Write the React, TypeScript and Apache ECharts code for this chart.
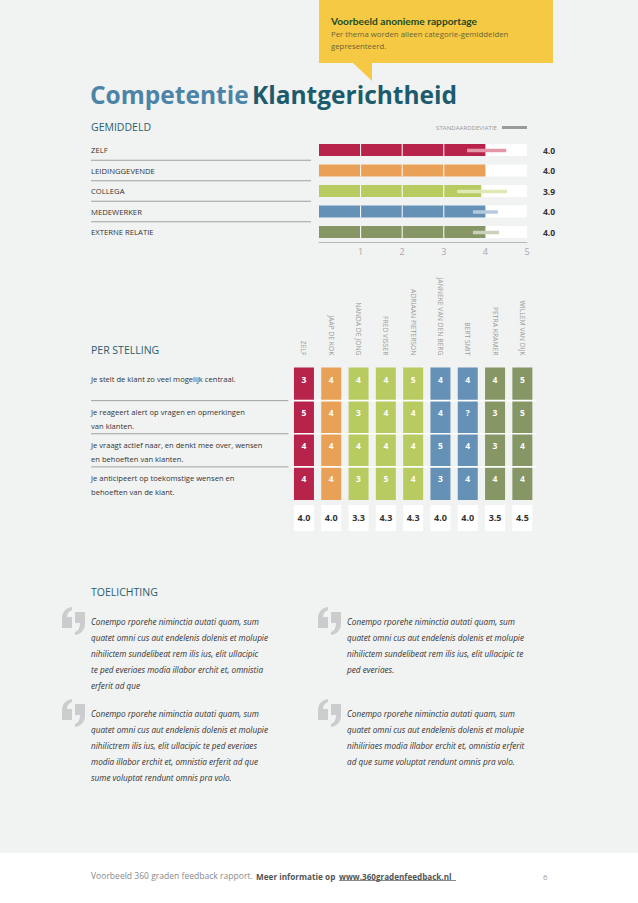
import React, { useEffect, useRef } from "react";
import * as echarts from "echarts";

// ---------- DATA ----------
const groups = ["ZELF", "LEIDINGGEVENDE", "COLLEGA", "MEDEWERKER", "EXTERNE RELATIE"];
const groupMeans = [4.0, 4.0, 3.9, 4.0, 4.0];
const groupColors = ["#b8234b", "#e9a057", "#b7cb60", "#6591b7", "#869664"];
const sdLow = [3.56, null, 3.32, 3.7, 3.7];
const sdHigh = [4.5, null, 4.52, 4.3, 4.33];
const sdColors = ["#e497a9", "#f3c9a0", "#e0e8b6", "#b6cadf", "#cad0b9"];
const meanTicks = [0, 1, 2, 3, 4, 5];

const raters = [
  "ZELF",
  "JAAP DE KOK",
  "NANDA DE JONG",
  "FRED VISSER",
  "ADRIAAN PIETERSON",
  "JANNEKE VAN DEN BERG",
  "BERT SMIT",
  "PETRA KRAMER",
  "WILLEM VAN DIJK",
];
const raterGroup = [0, 1, 2, 2, 2, 3, 3, 4, 4];
const statements = [
  "Je stelt de klant zo veel mogelijk centraal.",
  "Je reageert alert op vragen en opmerkingen\nvan klanten.",
  "Je vraagt actief naar, en denkt mee over, wensen\nen behoeften van klanten.",
  "Je anticipeert op toekomstige wensen en\nbehoeften van de klant.",
];
const scores = [
  ["3", "4", "4", "4", "5", "4", "4", "4", "5"],
  ["5", "4", "3", "4", "4", "4", "?", "3", "5"],
  ["4", "4", "4", "4", "4", "5", "4", "3", "4"],
  ["4", "4", "3", "5", "4", "3", "4", "4", "4"],
];
const raterMeans = [4.0, 4.0, 3.3, 4.3, 4.3, 4.0, 4.0, 3.5, 4.5];

const quoteLeftTop = [
  "Conempo rporehe niminctia autati quam, sum",
  "quatet omni cus aut endelenis dolenis et molupie",
  "nihilictem sundelibeat rem ilis ius, elit ullacipic",
  "te ped everiaes modia illabor erchit et, omnistia",
  "erferit ad que",
];
const quoteRightTop = [
  "Conempo rporehe niminctia autati quam, sum",
  "quatet omni cus aut endelenis dolenis et molupie",
  "nihilictem sundelibeat rem ilis ius, elit ullacipic te",
  "ped everiaes.",
];
const quoteLeftBottom = [
  "Conempo rporehe niminctia autati quam, sum",
  "quatet omni cus aut endelenis dolenis et molupie",
  "nihilictrem ilis ius, elit ullacipic te ped everiaes",
  "modia illabor erchit et, omnistia erferit ad que",
  "sume voluptat rendunt omnis pra volo.",
];
const quoteRightBottom = [
  "Conempo rporehe niminctia autati quam, sum",
  "quatet omni cus aut endelenis dolenis et molupie",
  "nihiliriaes modia illabor erchit et, omnistia erferit",
  "ad que sume voluptat rendunt omnis pra volo.",
];

const FONT = "'Open Sans', 'Noto Sans', sans-serif";
const TITLE_FONT = "'Open Sans', Lato, sans-serif";
const CALLOUT_FONT = "Lato, 'Open Sans', sans-serif";

const QUOTE_D =
  "M10 0 L10 3 C7 4 5 7 5 10 L10 10 L10 21 L0 21 L0 11 C0 5 4 1 10 0 Z " +
  "M13 5 L23 5 L23 17 C23 23 19 27 13 28 L13 25 C16 24 18 21 18 16 L13 16 Z";

let registered = false;
function registerShapes() {
  if (registered) return;
  echarts.graphic.registerShape("quoteMark", echarts.graphic.extendPath(QUOTE_D, {}) as any);
  registered = true;
}

function quoteBlock(x: number, y: number, lines: string[]) {
  return [
    { type: "quoteMark", x: x - 29, y: y - 15, style: { fill: "#cbcccd" } },
    {
      type: "text",
      x,
      y: y - 7.9,
      style: {
        text: lines.join("\n"),
        fontFamily: FONT,
        fontStyle: "italic",
        fontSize: 8.2,
        lineHeight: 15.8,
        fill: "#333333",
        verticalAlign: "top",
        align: "left",
      },
    },
  ];
}

export default function App() {
  const ref = useRef<HTMLDivElement>(null);

  useEffect(() => {
    if (!ref.current) return;
    registerShapes();
    const chart = echarts.init(ref.current, undefined, { renderer: "svg" });

    const g0 = { left: 319, top: 139.75, width: 208, height: 102.5 };
    const g1 = { left: 290.3, top: 367.5, width: 245.7, height: 132.5 };
    const g2 = { left: 290.3, top: 505, width: 245.7, height: 26 };

    const cells: { col: number; row: number; text: string; group: number }[] = [];
    scores.forEach((r, ri) =>
      r.forEach((s, ci) => cells.push({ col: ci, row: ri, text: s, group: raterGroup[ci] }))
    );

    const sdData: number[][] = [];
    groups.forEach((_, i) => {
      if (sdLow[i] != null && sdHigh[i] != null) sdData.push([sdLow[i] as number, sdHigh[i] as number, i]);
    });

    const option: any = {
      animation: false,
      backgroundColor: "#f1f2f2",
      textStyle: { fontFamily: FONT },
      legend: {
        data: [{ name: "STANDAARDDEVIATIE", icon: "rect", itemStyle: { color: "#9a9a9a" } }],
        right: 111,
        top: 124.5,
        padding: 0,
        itemWidth: 25,
        itemHeight: 3,
        align: "right",
        selectedMode: false,
        textStyle: { fontSize: 6.1, color: "#9a9a9a", fontFamily: FONT },
      },
      grid: [
        { ...g0, containLabel: false },
        { ...g1, containLabel: false },
        { ...g2, containLabel: false },
      ],
      xAxis: [
        {
          gridIndex: 0,
          type: "value",
          min: 0,
          max: 5,
          interval: 1,
          axisLine: { show: true, lineStyle: { color: "#b8b8b8", width: 1 } },
          axisTick: { show: false },
          splitLine: { show: false },
          axisLabel: {
            color: "#a8a8a8",
            fontSize: 9,
            margin: 5,
            fontFamily: FONT,
            formatter: (v: number) => (v === 0 ? "" : String(v)),
          },
        },
        {
          gridIndex: 1,
          type: "category",
          data: raters,
          position: "top",
          axisLine: { show: false },
          axisTick: { show: false },
          axisLabel: { rotate: 90, fontSize: 6.8, color: "#9a9a9a", margin: 12, interval: 0, fontFamily: FONT },
        },
        { gridIndex: 2, type: "category", data: raters, show: false },
      ],
      yAxis: [
        {
          gridIndex: 0,
          type: "category",
          data: groups,
          inverse: true,
          axisLine: { show: false },
          axisTick: { show: false },
          axisLabel: { align: "left", margin: 228, fontSize: 7.7, color: "#333333", fontFamily: FONT },
        },
        {
          gridIndex: 0,
          type: "category",
          data: groupMeans.map((v) => v.toFixed(1)),
          inverse: true,
          position: "right",
          axisLine: { show: false },
          axisTick: { show: false },
          axisLabel: {
            align: "left",
            margin: 16,
            fontSize: 8.5,
            fontWeight: "bold",
            color: "#333333",
            fontFamily: FONT,
          },
        },
        { gridIndex: 1, type: "category", data: statements, inverse: true, show: false },
        { gridIndex: 2, type: "category", data: ["gem"], show: false },
      ],
      series: [
        {
          type: "bar",
          xAxisIndex: 0,
          yAxisIndex: 0,
          barWidth: 12,
          showBackground: true,
          backgroundStyle: { color: "#ffffff", opacity: 1 },
          data: groupMeans.map((v, i) => ({ value: v, itemStyle: { color: groupColors[i] } })),
          z: 2,
          silent: true,
        },
        {
          type: "custom",
          xAxisIndex: 0,
          yAxisIndex: 0,
          encode: { x: 0, y: 1 },
          data: groupMeans.map((v, i) => [v, i]),
          z: 3,
          silent: true,
          renderItem: (params: any, api: any) => {
            const v = api.value(0);
            const c = api.value(1);
            const children = meanTicks
              .filter((t) => t > 0 && t < v)
              .map((t) => {
                const p = api.coord([t, c]);
                return {
                  type: "line",
                  shape: { x1: p[0], y1: p[1] - 6, x2: p[0], y2: p[1] + 6 },
                  style: { stroke: "#ffffff", lineWidth: 1 },
                };
              });
            return { type: "group", children };
          },
        },
        {
          type: "custom",
          name: "STANDAARDDEVIATIE",
          xAxisIndex: 0,
          yAxisIndex: 0,
          encode: { x: [0, 1], y: 2 },
          data: sdData,
          z: 4,
          silent: true,
          renderItem: (params: any, api: any) => {
            const i = api.value(2);
            const p1 = api.coord([api.value(0), i]);
            const p2 = api.coord([api.value(1), i]);
            return {
              type: "line",
              shape: { x1: p1[0], y1: p1[1] + 0.5, x2: p2[0], y2: p2[1] + 0.5 },
              style: { stroke: sdColors[i], lineWidth: 3.5 },
            };
          },
        },
        {
          type: "custom",
          xAxisIndex: 0,
          yAxisIndex: 0,
          encode: { x: 0, y: 1 },
          data: groups.slice(0, groups.length - 1).map((_, i) => [0, i]),
          z: 2,
          silent: true,
          renderItem: (params: any, api: any) => {
            const p = api.coord([0, api.value(1)]);
            const bh = api.size([0, 1])[1];
            const y = p[1] + bh / 2;
            const x0 = params.coordSys.x;
            return {
              type: "line",
              shape: { x1: x0 - 228, y1: y, x2: x0 - 8, y2: y },
              style: { stroke: "#8c8c8c", lineWidth: 0.8 },
            };
          },
        },
        {
          type: "custom",
          xAxisIndex: 1,
          yAxisIndex: 2,
          encode: { x: 0, y: 1 },
          data: cells.map((c) => [c.col, c.row]),
          z: 2,
          silent: true,
          renderItem: (params: any, api: any) => {
            const cell = cells[params.dataIndex];
            const p = api.coord([cell.col, cell.row]);
            const bh = api.size([1, 1])[1];
            const top = p[1] - bh / 2;
            return {
              type: "group",
              children: [
                {
                  type: "rect",
                  shape: { x: p[0] - 10, y: top, width: 20, height: bh },
                  style: { fill: groupColors[cell.group] },
                },
                {
                  type: "text",
                  x: p[0],
                  y: top + 11.5,
                  style: {
                    text: cell.text,
                    fill: "#ffffff",
                    fontWeight: "bold",
                    fontSize: 8.5,
                    fontFamily: FONT,
                    align: "center",
                    verticalAlign: "middle",
                  },
                },
              ],
            };
          },
        },
        {
          type: "custom",
          xAxisIndex: 1,
          yAxisIndex: 2,
          encode: { x: 0, y: 1 },
          data: statements.map((_, i) => [0, i]),
          z: 3,
          silent: true,
          renderItem: (params: any, api: any) => {
            const i = api.value(1);
            const p = api.coord([0, i]);
            const bh = api.size([0, 1])[1];
            const top = p[1] - bh / 2;
            const cs = params.coordSys;
            const children: any[] = [
              {
                type: "text",
                x: cs.x - 199.3,
                y: top + 4.5,
                style: {
                  text: statements[i],
                  fill: "#333333",
                  fontSize: 7.6,
                  lineHeight: 14,
                  fontFamily: FONT,
                  align: "left",
                  verticalAlign: "top",
                },
              },
            ];
            if (i < statements.length - 1) {
              const y = top + bh;
              children.push({
                type: "line",
                shape: { x1: cs.x - 199.3, y1: y, x2: cs.x - 2, y2: y },
                style: { stroke: "#8c8c8c", lineWidth: 0.8 },
              });
              children.push({
                type: "line",
                shape: { x1: cs.x + 1, y1: y, x2: cs.x + cs.width, y2: y },
                style: { stroke: "#ffffff", lineWidth: 1.6 },
              });
            }
            return { type: "group", children };
          },
        },
        {
          type: "custom",
          xAxisIndex: 2,
          yAxisIndex: 3,
          encode: { x: 0, y: 1 },
          data: raterMeans.map((v, i) => [i, 0, v]),
          z: 2,
          silent: true,
          renderItem: (params: any, api: any) => {
            const p = api.coord([api.value(0), 0]);
            const bh = api.size([1, 1])[1];
            return {
              type: "group",
              children: [
                {
                  type: "rect",
                  shape: { x: p[0] - 10, y: p[1] - bh / 2, width: 20, height: bh },
                  style: { fill: "#ffffff" },
                },
                {
                  type: "text",
                  x: p[0],
                  y: p[1] - 1,
                  style: {
                    text: Number(api.value(2)).toFixed(1),
                    fill: "#333333",
                    fontWeight: "bold",
                    fontSize: 9,
                    fontFamily: FONT,
                    align: "center",
                    verticalAlign: "middle",
                  },
                },
              ],
            };
          },
        },
      ],
      graphic: [
        // footer
        { type: "rect", shape: { x: 0, y: 853, width: 638, height: 50 }, style: { fill: "#ffffff" } },
        // callout
        { type: "rect", shape: { x: 319, y: 0, width: 234, height: 63 }, style: { fill: "#f5c944" } },
        {
          type: "polygon",
          shape: { points: [[352, 62], [372, 62], [372, 81]] },
          style: { fill: "#f5c944" },
        },
        {
          type: "text",
          x: 331,
          y: 21,
          style: {
            text: "Voorbeeld anonieme rapportage",
            fontFamily: CALLOUT_FONT,
            fontWeight: "bold",
            fontSize: 10.2,
            fill: "#234a22",
            verticalAlign: "middle",
          },
        },
        {
          type: "text",
          x: 331,
          y: 34 - 6,
          style: {
            text: "Per thema worden alleen categorie-gemiddelden\ngepresenteerd.",
            fontFamily: FONT,
            fontSize: 7.8,
            lineHeight: 12,
            fill: "#6b6436",
            verticalAlign: "top",
          },
        },
        // title
        {
          type: "text",
          x: 90,
          y: 94.5,
          style: {
            text: "{a|Competentie} {b|Klantgerichtheid}",
            verticalAlign: "middle",
            rich: {
              a: { fontFamily: TITLE_FONT, fontWeight: "bold", fontSize: 24.5, fill: "#4b84a7" },
              b: { fontFamily: TITLE_FONT, fontWeight: "bold", fontSize: 24.5, fill: "#1c5b6c" },
            },
          },
        },
        // headings
        {
          type: "text",
          x: 91,
          y: 127,
          style: { text: "GEMIDDELD", fontFamily: FONT, fontSize: 10.5, fill: "#2a5e6e", verticalAlign: "middle" },
        },
        {
          type: "text",
          x: 91,
          y: 350,
          style: { text: "PER STELLING", fontFamily: FONT, fontSize: 10.5, fill: "#2a5e6e", verticalAlign: "middle" },
        },
        {
          type: "text",
          x: 91,
          y: 592,
          style: { text: "TOELICHTING", fontFamily: FONT, fontSize: 10.5, fill: "#2a5e6e", verticalAlign: "middle" },
        },
        // quotes
        ...quoteBlock(91, 622, quoteLeftTop),
        ...quoteBlock(347, 622, quoteRightTop),
        ...quoteBlock(91, 714, quoteLeftBottom),
        ...quoteBlock(347, 714, quoteRightBottom),
        // footer text
        {
          type: "text",
          x: 91,
          y: 876,
          style: {
            text: "Voorbeeld 360 graden feedback rapport.",
            fontFamily: FONT,
            fontSize: 8.55,
            fill: "#8a8a8a",
            verticalAlign: "middle",
          },
        },
        {
          type: "text",
          x: 256,
          y: 876,
          style: {
            text: "Meer informatie op",
            fontFamily: FONT,
            fontWeight: "bold",
            fontSize: 8.2,
            fill: "#555555",
            verticalAlign: "middle",
          },
        },
        {
          type: "text",
          x: 339,
          y: 876,
          style: {
            text: "www.360gradenfeedback.nl",
            fontFamily: FONT,
            fontWeight: "bold",
            fontSize: 8.1,
            fill: "#555555",
            verticalAlign: "middle",
          },
        },
        {
          type: "line",
          shape: { x1: 339, y1: 880.5, x2: 456, y2: 880.5 },
          style: { stroke: "#555555", lineWidth: 0.7 },
        },
        {
          type: "text",
          x: 543,
          y: 876,
          style: { text: "6", fontFamily: FONT, fontSize: 8, fill: "#9a9a9a", verticalAlign: "middle" },
        },
      ],
    };

    chart.setOption(option);
    return () => chart.dispose();
  }, []);

  return (
    <div
      ref={ref}
      style={{ position: "fixed", left: 0, top: 0, width: 638, height: 903 }}
    />
  );
}
